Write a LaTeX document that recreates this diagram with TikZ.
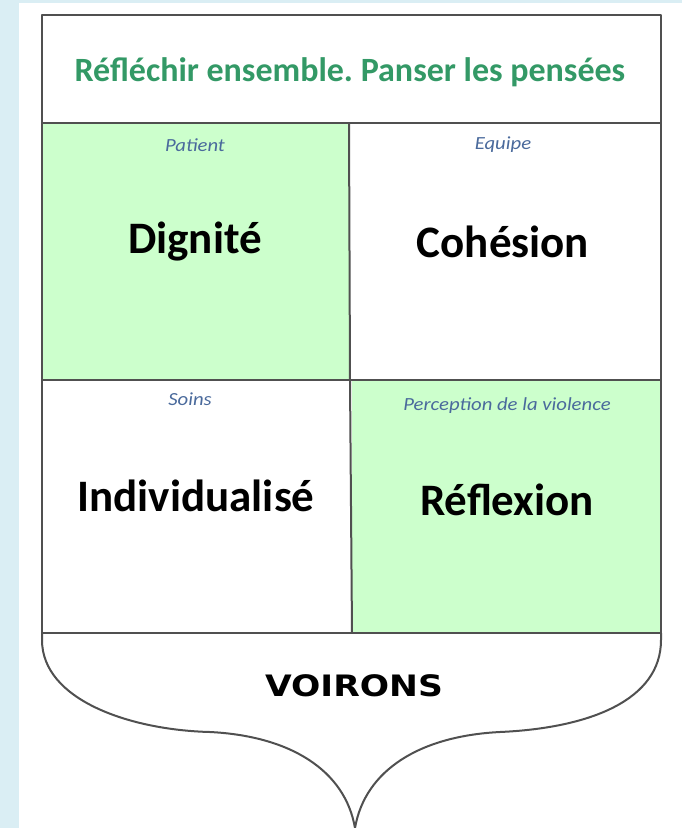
\documentclass[tikz,border=0pt]{standalone}
\usepackage{fontspec}
\setmainfont{Carlito}
\newfontfamily\voirfont{DejaVu Sans}
\frenchspacing
\definecolor{bgblue}{HTML}{DAEEF4}
\definecolor{cellgreen}{HTML}{CCFFCC}
\definecolor{titlegreen}{HTML}{339966}
\definecolor{labelblue}{HTML}{4A6A9C}
\definecolor{linegray}{HTML}{505050}
\tikzset{
  outline/.style={draw=linegray, line width=2pt, line join=round},
  smalllabel/.style={font=\fontsize{18.5}{20}\selectfont\itshape, text=labelblue, inner sep=0pt},
  bigword/.style={font=\fontsize{45}{50}\selectfont\bfseries, text=black, inner sep=0pt},
  titletext/.style={font=\fontsize{34}{38}\selectfont\bfseries, text=titlegreen, inner sep=0pt},
  voirtext/.style={font=\voirfont\bfseries\fontsize{29.5}{34}\selectfont, text=black, inner sep=0pt}
}
\begin{document}
\begin{tikzpicture}[x=1pt,y=-1pt]
\useasboundingbox (0,0) rectangle (682,828);
% background
\fill[bgblue] (0,0) rectangle (682,828);
\fill[white] (19,3) rectangle (682,828);
% shield fill
\fill[white] (42,15) -- (661,15) -- (661,645)
  .. controls (661,700) and (590,728) .. (500,732)
  .. controls (420,736) and (365,770) .. (355,828)
  .. controls (345,770) and (290,736) .. (210,732)
  .. controls (130,730) and (42,700) .. (42,645) -- cycle;
% green cells
\fill[cellgreen] (42,123) rectangle (349,380);
\fill[cellgreen] (352,380) rectangle (661,633);
% outline
\draw[outline] (42,633) -- (42,15) -- (661,15) -- (661,633);
\draw[outline] (661,633) -- (661,640)
  .. controls (661,700) and (590,728) .. (500,732)
  .. controls (420,736) and (365,770) .. (355,828);
\draw[outline] (42,633) -- (42,640)
  .. controls (42,700) and (130,730) .. (210,732)
  .. controls (290,736) and (345,770) .. (355,828);
% grid
\draw[outline] (42,123) -- (661,123);
\draw[outline] (42,380) -- (661,380);
\draw[outline] (42,633) -- (661,633);
\draw[outline] (349,123) -- (350,380) -- (352,633);
% texts
\node[titletext] (title) at (350,72) {Réfléchir ensemble. Panser les pensées};
\node[smalllabel] (lpatient) at (195,145) {\scalebox{1.12}[1]{Patient}};
\node[smalllabel] (lequipe) at (503,145) {\scalebox{1.12}[1]{Equipe}};
\node[smalllabel] (lsoins) at (190,399) {\scalebox{1.12}[1]{Soins}};
\node[smalllabel] (lperc) at (507,406) {\scalebox{1.12}[1]{Perception de la violence}};
\node[bigword] (dignite) at (195,242) {Dignité};
\node[bigword] (cohesion) at (503,242) {Cohésion};
\node[bigword] (indiv) at (196,496) {Individualisé};
\node[bigword] (reflexion) at (507,500) {Réflexion};
\node[voirtext] (voirons) at (354,686) {\scalebox{1.17}[1]{VOIRONS}};
\end{tikzpicture}
\end{document}
